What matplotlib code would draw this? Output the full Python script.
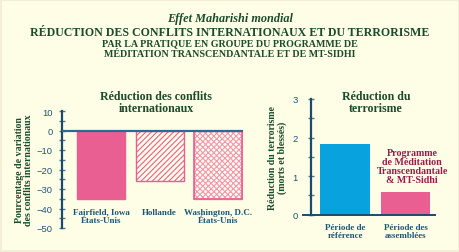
import matplotlib.pyplot as plt
from matplotlib.ticker import MultipleLocator
from matplotlib.patches import Rectangle

# data
conflictPlaces = ["Fairfield, Iowa\nÉtats-Unis", "Hollande", "Washington, D.C.\nÉtats-Unis"]
conflictChange = [-35.2, -25.7, -34.9]
terrorPeriods = ["Période de\nréférence", "Période des\nassemblées"]
terrorValues = [1.83, 0.58]

bgColor = "#fefee6"
pink = "#e95f92"
lightPink = "#f096b6"
blue = "#08a3de"
green = "#1c4a2c"
navy = "#1d4a6b"
teal = "#1f5577"
maroon = "#9a1c4c"
serif = "Liberation Serif"

plt.rcParams["hatch.linewidth"] = 0.8

fig = plt.figure(figsize=(4.6, 2.53), dpi=100, facecolor=bgColor)
fig.patches.append(Rectangle((0, 0), 1, 1, transform=fig.transFigure, fill=False,
                             edgecolor="#f4eed8", lw=3))

# header
fig.text(0.5, 1 - 19 / 253, "Effet Maharishi mondial", ha="center", va="center",
         family=serif, weight="bold", style="italic", fontsize=8.8, color=green)
fig.text(0.5, 1 - 33 / 253, "RÉDUCTION DES CONFLITS INTERNATIONAUX ET DU TERRORISME",
         ha="center", va="center", family=serif, weight="bold", fontsize=8.6, color=green)
fig.text(0.5, 1 - 44 / 253, "PAR LA PRATIQUE EN GROUPE DU PROGRAMME DE",
         ha="center", va="center", family=serif, weight="bold", fontsize=7.2, color=green)
fig.text(0.5, 1 - 54.5 / 253, "MÉDITATION TRANSCENDANTALE ET DE MT-SIDHI",
         ha="center", va="center", family=serif, weight="bold", fontsize=7.2, color=green)


def styleAxis(ax, pad):
    ax.set_facecolor("none")
    for s in ["top", "right"]:
        ax.spines[s].set_visible(False)
    ax.spines["left"].set_color(navy)
    ax.spines["left"].set_linewidth(1.6)
    ax.tick_params(axis="y", which="both", direction="inout", length=5, width=1,
                   color="#4a7a90", labelsize=6.8, labelcolor=teal, pad=pad)
    ax.tick_params(axis="x", length=0, labelbottom=False)


# left chart: conflicts
ax1 = fig.add_axes([62 / 460, 1 - 229 / 253, 181 / 460, 117 / 253])
xs = range(len(conflictChange))
bars = ax1.bar(xs, conflictChange, width=0.82, zorder=2)
bars[0].set_facecolor(pink)
bars[0].set_edgecolor(pink)
bars[1].set_facecolor(bgColor)
bars[1].set_edgecolor(pink)
bars[1].set_hatch("//////")
bars[2].set_facecolor(bgColor)
bars[2].set_edgecolor(lightPink)
bars[2].set_hatch("xxxxxx")
# outline on top of the light hatch
ax1.bar([2], [conflictChange[2]], width=0.82, fill=False, edgecolor=pink, lw=1.2, zorder=3)
ax1.set_xlim(-0.664, 2.42)
ax1.set_ylim(-50, 10)
ax1.yaxis.set_minor_locator(MultipleLocator(5))
ax1.spines["bottom"].set_visible(False)
ax1.axhline(0, color="#2b6a96", lw=1.6, zorder=4)
styleAxis(ax1, 4)
ax1.set_yticks(range(-50, 11, 10))
ax1.set_yticklabels(["−50", "−40", "−30", "−20", "−10", "0", "10"], family="Liberation Sans")
ax1.set_ylabel("Pourcentage de variation\ndes conflits internationaux", family=serif,
               weight="bold", fontsize=7.1, color=green, labelpad=3, linespacing=1.0)
for i, name in enumerate(conflictPlaces):
    ax1.text(i, -39.5, name, ha="center", va="top", family=serif, weight="bold",
             fontsize=6.5, color=teal, linespacing=1.0)
fig.text(156 / 460, 1 - 103 / 253, "Réduction des conflits\ninternationaux", ha="center",
         va="center", family=serif, weight="bold", fontsize=8.6, color=green, linespacing=0.9)

# right chart: terrorism
ax2 = fig.add_axes([311 / 460, 1 - 215.7 / 253, 124 / 460, 115.7 / 253])
ax2.bar(range(len(terrorValues)), terrorValues, width=0.83, color=[blue, pink], zorder=2)
ax2.set_xlim(-0.573, 1.49)
ax2.set_ylim(0, 3)
ax2.yaxis.set_major_locator(MultipleLocator(1))
ax2.yaxis.set_minor_locator(MultipleLocator(0.5))
styleAxis(ax2, 7)
for lab in ax2.get_yticklabels():
    lab.set_family("Liberation Sans")
ax2.spines["bottom"].set_visible(False)
ax2.plot([-0.71, 1.49], [0, 0], color=navy, lw=1.4, clip_on=False, zorder=4)
ax2.set_ylabel("Réduction du terrorisme\n(morts et blessés)", family=serif,
               weight="bold", fontsize=7.1, color=green, labelpad=4, linespacing=1.0)
for i, name in enumerate(terrorPeriods):
    ax2.text(i, -0.22, name, ha="center", va="top", family=serif, weight="bold",
             fontsize=6.5, color=teal, linespacing=1.0, clip_on=False)
ax2.text(1.11, 1.27, "Programme\nde Méditation\nTranscendantale\n& MT-Sidhi", ha="center",
         va="center", family=serif, weight="bold", fontsize=7.2, color=maroon,
         linespacing=1.0, clip_on=False)
fig.text(376 / 460, 1 - 103 / 253, "Réduction du\nterrorisme", ha="center",
         va="center", family=serif, weight="bold", fontsize=8.6, color=green, linespacing=0.9)

fig.savefig("out.png", dpi=100, facecolor=bgColor)
